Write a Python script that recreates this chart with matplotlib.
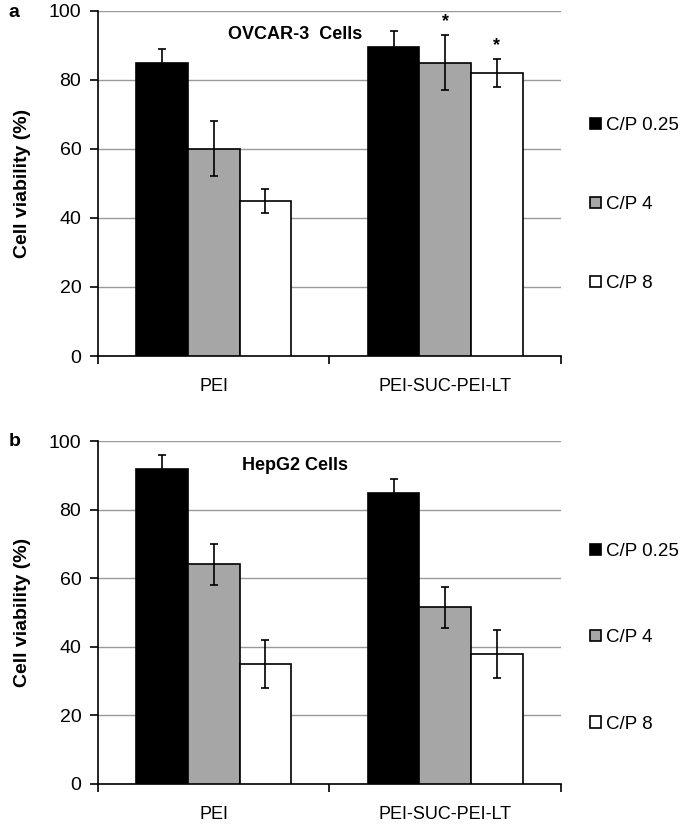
import numpy as np
import matplotlib.pyplot as plt
from matplotlib.ticker import FixedLocator

plt.rcParams['font.family'] = ['Liberation Sans', 'DejaVu Sans']

groups = ['PEI', 'PEI-SUC-PEI-LT']
series = ['C/P 0.25', 'C/P 4', 'C/P 8']
colors = ['black', '#a6a6a6', 'white']

# panel a: OVCAR-3
ovcar_vals = [[85, 89.5], [60, 85], [45, 82]]
ovcar_err = [[4, 4.5], [8, 8], [3.5, 4]]
ovcar_star = [[False, False], [False, True], [False, True]]

# panel b: HepG2
hepg2_vals = [[92, 85], [64, 51.5], [35, 38]]
hepg2_err = [[4, 4], [6, 6], [7, 7]]

fig = plt.figure(figsize=(6.85, 8.26), dpi=100)
ax_a = fig.add_axes([0.143, 0.569, 0.676, 0.418])
ax_b = fig.add_axes([0.143, 0.051, 0.676, 0.415])

bw = 0.223
x = np.arange(len(groups)) + 0.5


def draw_panel(ax, vals, errs, title, stars=None):
    handles = []
    for i, s in enumerate(series):
        pos = x + (i - 1) * bw
        b = ax.bar(pos, vals[i], bw, color=colors[i], edgecolor='black',
                   linewidth=1.2, label=s, zorder=3)
        ax.errorbar(pos, vals[i], yerr=errs[i], fmt='none', ecolor='black',
                    elinewidth=1.2, capsize=3, capthick=1.2, zorder=4)
        handles.append(b)
        if stars is not None:
            for j in range(len(groups)):
                if stars[i][j]:
                    ax.text(pos[j], vals[i][j] + errs[i][j] + 1.5, '*',
                            ha='center', va='bottom', fontsize=13,
                            fontweight='bold')
    ax.set_xlim(0, 2)
    ax.set_ylim(0, 100)
    ax.set_yticks([0, 20, 40, 60, 80, 100])
    ax.yaxis.grid(True, color='#999999', linewidth=1.0, zorder=0)
    ax.set_axisbelow(True)
    ax.xaxis.set_major_locator(FixedLocator([0, 1, 2]))
    ax.xaxis.set_minor_locator(FixedLocator(list(x)))
    ax.set_xticklabels([])
    ax.set_xticklabels(groups, minor=True)
    ax.tick_params(axis='x', which='major', length=6, width=1.2, direction='out')
    ax.tick_params(axis='x', which='minor', length=0, pad=16, labelsize=13)
    ax.tick_params(axis='y', length=6, width=1.2, direction='out', labelsize=14,
                   pad=6)
    for sp in ['top', 'right']:
        ax.spines[sp].set_visible(False)
    for sp in ['left', 'bottom']:
        ax.spines[sp].set_linewidth(1.2)
    ax.set_ylabel('Cell viability (%)', fontsize=14, fontweight='bold')
    ax.yaxis.set_label_coords(-0.145, 0.5)
    ax.text(0.425, 0.93, title, transform=ax.transAxes, ha='center',
            va='center', fontsize=13, fontweight='bold')
    return handles


ha = draw_panel(ax_a, ovcar_vals, ovcar_err, 'OVCAR-3  Cells', ovcar_star)
hb = draw_panel(ax_b, hepg2_vals, hepg2_err, 'HepG2 Cells')

fig.legend(handles=ha, labels=series, loc='center left',
           bbox_to_anchor=(0.848, 0.752), frameon=False, fontsize=13.5,
           handlelength=0.55, handleheight=0.55, handletextpad=0.3,
           labelspacing=3.3, borderpad=0)
fig.legend(handles=hb, labels=series, loc='center left',
           bbox_to_anchor=(0.848, 0.228), frameon=False, fontsize=13.5,
           handlelength=0.55, handleheight=0.55, handletextpad=0.3,
           labelspacing=3.7, borderpad=0)

fig.text(0.012, 0.985, 'a', fontsize=14, fontweight='bold', va='center')
fig.text(0.012, 0.465, 'b', fontsize=14, fontweight='bold', va='center')

plt.savefig('out.png', dpi=100)
